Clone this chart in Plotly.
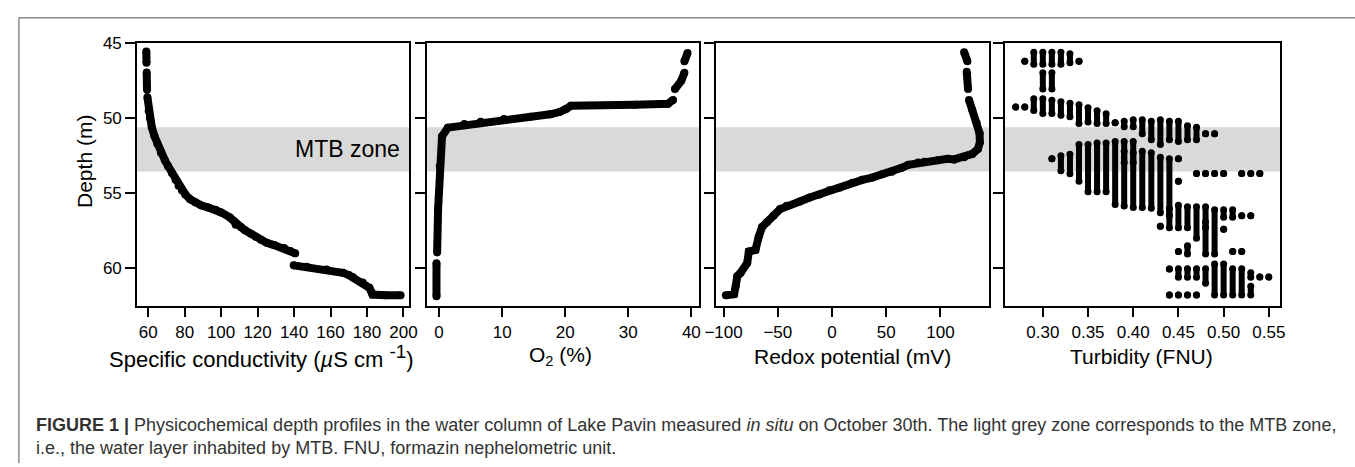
import plotly.graph_objects as go

# ---------------- data ----------------
cond_value = [59.0, 59.1, None,
              59.2, 59.4, None,
              59.6, 60.3, 61.0, 62.0, 63.5, 65.0, 67.0, 69.2, 71.0, 73.0, 75.0, 76.7, 78.5, 80.4,
              83.0, 85.8, 89.0, 93.0, 97.0, 100.0, 104.7, 107.4, 108.0, 110.9, 113.0, 116.4, 119.0,
              121.8, 125.0, 129.0, 134.6, 138.0, 140.6, None,
              139.8, 147.0, 157.8, 166.8, 170.0, 172.3, 177.6, 181.3, 182.5, 183.0, 190.0, 198.4]
cond_depth = [45.55, 46.3, None,
              46.95, 48.1, None,
              48.6, 49.5, 50.0, 50.6, 51.2, 51.7, 52.3, 52.8, 53.2, 53.65, 54.1, 54.5, 54.8, 55.07,
              55.4, 55.6, 55.8, 55.95, 56.1, 56.27, 56.6, 56.9, 57.1, 57.25, 57.45, 57.7, 57.9,
              58.1, 58.3, 58.45, 58.65, 58.85, 59.0, None,
              59.8, 59.9, 60.07, 60.3, 60.45, 60.6, 60.95, 61.3, 61.6, 61.75, 61.8, 61.8]

o2_value = [39.4, 38.9, None,
            38.9, 38.4, 37.4, None,
            37.1, 36.3, 31.1, 20.9, 20.2, 19.1, 17.6, 14.4, 10.3, 6.6, 4.0, 1.4, 0.47, 0.11, -0.15, -0.31, None,
            -0.41, -0.41]
o2_depth = [45.65, 46.2, None,
            46.96, 47.5, 48.05, None,
            48.77, 49.03, 49.1, 49.16, 49.36, 49.58, 49.73, 49.9, 50.05, 50.23, 50.38, 50.62, 51.2, 53.2, 56.0, 58.94, None,
            59.66, 61.86]

redox_value = [121.8, 124.8, None,
               124.2, 125.4, None,
               126.3, 129.3, 133.3, 136.0, 136.3, 134.5, 129.3, 121.8, 112.7, 106.6, 97.5, 85.4, 79.4,
               70.3, 64.2, 55.1, 46.0, 36.9, 27.9, 18.8, 6.7, -2.4, -11.5, -20.6, -29.7, -41.8, -47.9,
               -53.9, -60.0, -64.5, -67.6, -70.6, -76.7, -78.2, -84.3, -87.3, -88.8, -90.3, -97.9]
redox_depth = [45.59, 46.2, None,
               46.9, 48.05, None,
               48.77, 49.45, 50.3, 50.99, 51.6, 52.04, 52.37, 52.6, 52.74, 52.7, 52.8, 52.9, 52.95,
               53.1, 53.3, 53.56, 53.73, 53.95, 54.1, 54.3, 54.62, 54.8, 55.07, 55.28, 55.54, 55.83, 56.05,
               56.48, 56.92, 57.24, 57.9, 58.77, 58.88, 59.65, 60.3, 60.52, 61.17, 61.72, 61.8]

# turbidity readings: value (FNU), top and bottom depth of each run of readings
turb_value = [0.28, 0.29, 0.30, 0.31, 0.32, 0.33, 0.34,
              0.30, 0.31,
              0.27, 0.28, 0.29, 0.30, 0.31, 0.32, 0.33, 0.34, 0.35, 0.36, 0.37, 0.38, 0.39, 0.40,
              0.41, 0.42, 0.43, 0.44, 0.45, 0.46, 0.47, 0.48, 0.49,
              0.31, 0.32, 0.33, 0.34, 0.35, 0.36, 0.37, 0.38, 0.39, 0.39, 0.40, 0.40, 0.41, 0.42, 0.43,
              0.44, 0.45, 0.45, 0.47, 0.48, 0.49, 0.50, 0.52, 0.53, 0.54,
              0.43, 0.44, 0.45, 0.46, 0.47, 0.48, 0.48, 0.49, 0.50, 0.50, 0.51, 0.52, 0.53,
              0.45, 0.46, 0.51, 0.52,
              0.44, 0.45, 0.46, 0.47, 0.48, 0.49, 0.50, 0.51, 0.52, 0.53, 0.53, 0.54, 0.55, 0.44, 0.45, 0.46, 0.47]
turb_top = [46.2, 45.6, 45.6, 45.6, 45.6, 45.7, 46.2,
            46.96, 46.96,
            49.25, 49.25, 48.7, 48.7, 48.8, 48.9, 49.0, 49.1, 49.3, 49.5, 49.7, 50.3, 50.2, 50.1,
            50.1, 50.2, 50.1, 50.2, 50.2, 50.5, 50.6, 51.03, 51.03,
            52.7, 52.5, 52.4, 51.75, 51.75, 51.65, 51.65, 51.55, 51.55, 52.2, 51.55, 52.3, 52.2, 52.3, 52.6,
            52.7, 52.7, 54.2, 53.67, 53.67, 53.67, 53.67, 53.67, 53.67, 53.67,
            57.2, 56.0, 55.8, 55.9, 55.9, 55.9, 56.9, 56.1, 56.1, 57.4, 56.1, 56.5, 56.5,
            58.88, 58.5, 58.88, 58.88,
            60.05, 60.03, 60.03, 60.03, 60.03, 59.71, 59.71, 60.03, 60.03, 60.3, 61.2, 60.58, 60.58, 61.78, 61.78, 61.78, 61.78]
turb_bottom = [46.2, 46.4, 46.4, 46.4, 46.4, 46.3, 46.2,
               48.05, 48.05,
               49.25, 49.25, 49.47, 49.68, 49.68, 49.8, 49.9, 50.34, 50.25, 50.34, 50.34, 50.3, 50.56, 50.56,
               51.03, 51.43, 51.75, 51.43, 51.55, 51.43, 51.43, 51.03, 51.03,
               52.7, 53.5, 53.7, 54.2, 54.9, 54.9, 54.9, 55.75, 52.95, 55.85, 52.95, 55.95, 55.95, 56.0, 56.3,
               56.5, 52.7, 54.2, 53.67, 53.67, 53.67, 53.67, 53.67, 53.67, 53.67,
               57.2, 57.3, 57.3, 57.3, 58.0, 57.3, 59.05, 59.05, 56.6, 57.4, 56.6, 56.5, 56.5,
               58.88, 59.05, 58.88, 58.88,
               60.05, 60.6, 60.6, 60.6, 61.0, 61.78, 61.78, 61.78, 61.78, 60.6, 61.78, 60.58, 60.58, 61.78, 61.78, 61.78, 61.78]

mtb_zone = [50.6, 53.55]
depth_ticks = [45, 50, 55, 60]
cond_ticks = [60, 80, 100, 120, 140, 160, 180, 200]
o2_ticks = [0, 10, 20, 30, 40]
redox_ticks = [-100, -50, 0, 50, 100]
turb_ticks = [0.30, 0.35, 0.40, 0.45, 0.50, 0.55]

x_titles = ["Specific conductivity (<i>µ</i>S cm <sup><span style='font-size:19px'>-1</span></sup>)",
            "O<sub>2</sub> (%)", "Redox potential (mV)", "Turbidity (FNU)"]
caption1 = ("<b>FIGURE 1 |</b> Physicochemical depth profiles in the water column of Lake Pavin measured "
            "<i>in situ</i> on October 30th. The light grey zone corresponds to the MTB zone,")
caption2 = "i.e., the water layer inhabited by MTB. FNU, formazin nephelometric unit."

# ---------------- layout helpers ----------------
W, H = 1355, 467
def fx(x): return x / W
def fy(y): return 1 - y / H

panels = [(128, 404), (422, 698), (715, 992), (1008, 1287)]
y_top, y_bot = 35, 303
x_ranges = [[54, 203.2], [-1.9, 41.25], [-107, 144.8], [0.258, 0.5623]]
x_ticks = [cond_ticks, o2_ticks, redox_ticks, turb_ticks]
y_range = [62.52, 45]

tick_font = dict(family="Liberation Sans Narrow, Arial Narrow, Liberation Sans, Arial", size=17, color="black")
title_sizes = [22, 21, 21, 21]

fig = go.Figure()

def add_trace(x, y, i, width=8, msize=8):
    ax = "" if i == 0 else str(i + 1)
    fig.add_trace(go.Scatter(x=x, y=y, mode="lines+markers", xaxis="x" + ax, yaxis="y" + ax,
                             line=dict(color="black", width=width),
                             marker=dict(color="black", size=msize),
                             connectgaps=False, showlegend=False, hoverinfo="skip", cliponaxis=True))

add_trace(cond_value, cond_depth, 0)
add_trace(o2_value, o2_depth, 1)
add_trace(redox_value, redox_depth, 2)

tx, ty = [], []
for v, a, b in zip(turb_value, turb_top, turb_bottom):
    tx += [v, v, None]
    ty += [a, b, None]
add_trace(tx, ty, 3, width=6, msize=7)

layout = dict(width=W, height=H, margin=dict(l=0, r=0, t=0, b=0),
              paper_bgcolor="white", plot_bgcolor="white", showlegend=False)
for i, (l, r) in enumerate(panels):
    ax = "" if i == 0 else str(i + 1)
    layout["xaxis" + ax] = dict(domain=[fx(l), fx(r)], range=x_ranges[i], anchor="y" + ax,
                               tickmode="array", tickvals=x_ticks[i],
                               tickformat=".2f" if i == 3 else None,
                               ticks="outside", ticklen=9, tickwidth=2, tickcolor="black",
                               showline=True, linewidth=2, linecolor="black", mirror=True,
                               showgrid=False, zeroline=False, tickfont=tick_font)
    layout["yaxis" + ax] = dict(domain=[fy(y_bot), fy(y_top)], range=y_range, anchor="x" + ax,
                               tickmode="array", tickvals=depth_ticks, showticklabels=(i == 0),
                               ticks="outside", ticklen=10, tickwidth=2, tickcolor="black",
                               showline=True, linewidth=2, linecolor="black", mirror=True,
                               showgrid=False, zeroline=False, tickfont=tick_font)
fig.update_layout(**layout)

shapes = []
for i in range(4):
    ax = "" if i == 0 else str(i + 1)
    shapes.append(dict(type="rect", xref="x" + ax + " domain", yref="y" + ax,
                       x0=0, x1=1, y0=mtb_zone[0], y1=mtb_zone[1],
                       fillcolor="#d9d9d9", line=dict(width=0), layer="below"))
# figure frame
shapes.append(dict(type="line", xref="paper", yref="paper", x0=fx(8), x1=1.01, y0=fy(9), y1=fy(9),
                   line=dict(color="#8a8a8a", width=1.5)))
shapes.append(dict(type="line", xref="paper", yref="paper", x0=fx(8), x1=fx(8), y0=fy(9), y1=fy(463),
                   line=dict(color="#8a8a8a", width=1.5)))
fig.update_layout(shapes=shapes)

ann = []
centers = [254, 557, 853, 1147]
for c, t, s in zip(centers, x_titles, title_sizes):
    ann.append(dict(text=t, x=fx(c), y=fy(354), xref="paper", yref="paper", showarrow=False,
                    xanchor="center", yanchor="middle",
                    font=dict(family="Liberation Sans, Arial, Helvetica", size=s, color="black")))
ann.append(dict(text="Depth (m)", x=fx(74), y=fy(155), xref="paper", yref="paper", showarrow=False,
                textangle=-90, xanchor="center", yanchor="middle",
                font=dict(family="Liberation Sans, Arial, Helvetica", size=21, color="black")))
ann.append(dict(text="MTB zone", x=fx(397), y=fy(143), xref="paper", yref="paper", showarrow=False,
                xanchor="right", yanchor="middle",
                font=dict(family="Liberation Sans, Arial", size=23, color="black")))
cap_font = dict(family="Liberation Sans, Arial, Helvetica", size=18, color="#333333")
ann.append(dict(text=caption1, x=fx(23), y=fy(424), xref="paper", yref="paper", showarrow=False,
                xanchor="left", yanchor="middle", font=cap_font))
ann.append(dict(text=caption2, x=fx(23), y=fy(448), xref="paper", yref="paper", showarrow=False,
                xanchor="left", yanchor="middle", font=cap_font))
fig.update_layout(annotations=ann)

fig.write_html("out.html", config={"displayModeBar": False, "staticPlot": True},
               post_script="document.body.style.margin='0';document.body.style.overflow='hidden';")
